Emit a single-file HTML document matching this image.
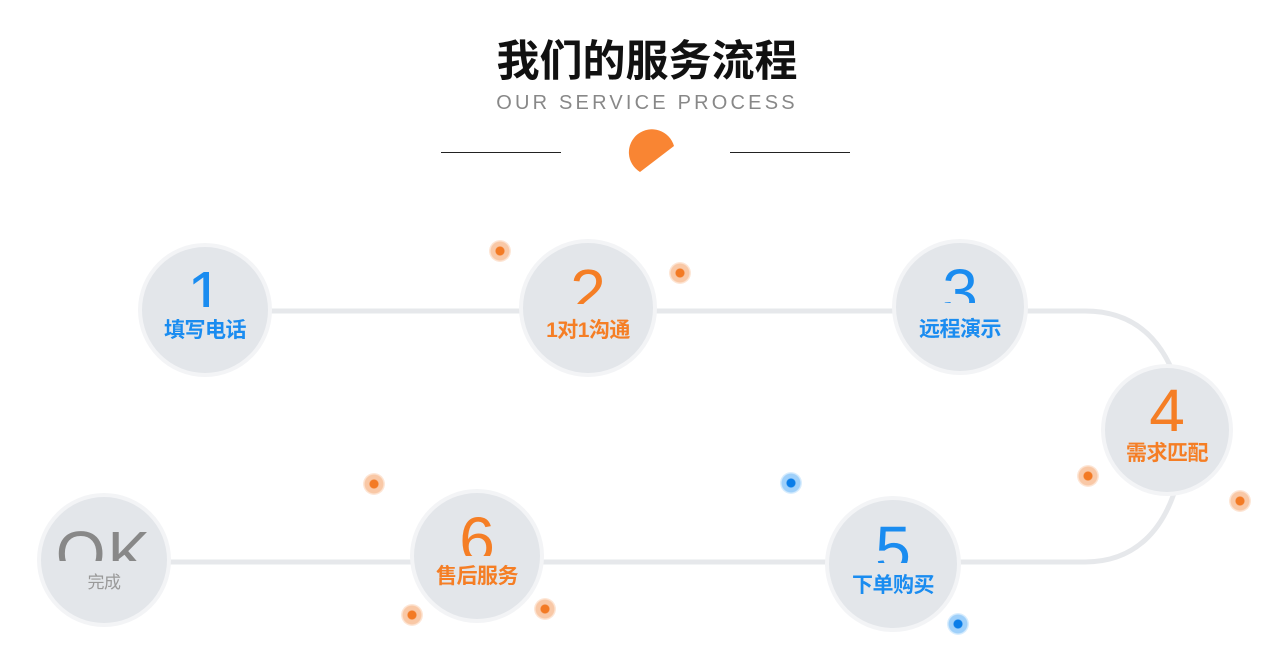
<!DOCTYPE html>
<html><head><meta charset="utf-8"><style>
body{margin:0;width:1284px;height:671px;background:#fff;position:relative;overflow:hidden;font-family:"Liberation Sans","Noto Sans CJK SC",sans-serif}
.a{position:absolute}
.c{position:absolute;border-radius:50%;background:#e3e6ea;box-shadow:0 0 0 4px #f3f4f6;text-align:center}
.n{position:absolute;left:0;right:0;overflow:hidden;font-family:"Liberation Sans",sans-serif;font-weight:normal;font-size:64px;line-height:64px}
.l{position:absolute;left:0;right:0;font-weight:bold;font-size:21px;line-height:22px;letter-spacing:-0.5px}
.d{position:absolute;width:22px;height:22px;border-radius:50%;margin:-11px 0 0 -11px}
.o{background:radial-gradient(circle,#f37a24 0 4px,#f9c8a6 5px 9px,#fde6d6 10px 11px,transparent 11px)}
.b{background:radial-gradient(circle,#0a7de8 0 4px,#9fd0fa 5px 9px,#d9edfd 10px 11px,transparent 11px)}
</style></head><body>
<div class="a" style="left:0;width:1294px;top:30px;text-align:center;font-size:43px;font-weight:bold;color:#111;line-height:56px;font-family:'Noto Sans CJK SC',sans-serif">我们的服务流程</div>
<div class="a" style="left:0;width:1294px;top:90px;text-align:center;font-size:20px;letter-spacing:3.2px;color:#888;line-height:26px">OUR SERVICE PROCESS</div>
<div class="a" style="left:441px;top:152px;width:120px;height:1px;background:#222"></div>
<div class="a" style="left:730px;top:152px;width:120px;height:1px;background:#222"></div>
<svg class="a" style="left:0;top:0" width="1284" height="671">
<path d="M674 146 A23 23 0 1 0 640 172 Z" fill="#f98533"/>
<path d="M205 311 H1085 C1130 311 1160 335 1176 380 M1178 480 C1165 530 1135 562 1085 562 H104" fill="none" stroke="#e6e8eb" stroke-width="5"/>
</svg>

<div class="c" style="left:142px;top:247px;width:126px;height:126px">
 <div class="n" style="top:15px;height:45px;color:#1a8cf0">1</div>
 <div class="l" style="top:73px;color:#1a8cf0">填写电话</div></div>
<div class="c" style="left:523px;top:243px;width:130px;height:130px">
 <div class="n" style="top:17px;height:44px;color:#f57e25">2</div>
 <div class="l" style="top:77px;color:#f57e25">1对1沟通</div></div>
<div class="c" style="left:896px;top:243px;width:128px;height:128px">
 <div class="n" style="top:17px;height:43px;color:#1a8cf0">3</div>
 <div class="l" style="top:76px;color:#1a8cf0">远程演示</div></div>
<div class="c" style="left:1105px;top:368px;width:124px;height:124px">
 <div class="n" style="top:12px;height:51px;color:#f57e25">4</div>
 <div class="l" style="top:75px;color:#f57e25">需求匹配</div></div>
<div class="c" style="left:829px;top:500px;width:128px;height:128px">
 <div class="n" style="top:17px;height:46px;color:#1a8cf0">5</div>
 <div class="l" style="top:75px;color:#1a8cf0">下单购买</div></div>
<div class="c" style="left:414px;top:493px;width:126px;height:126px">
 <div class="n" style="top:15px;height:48px;color:#f57e25">6</div>
 <div class="l" style="top:73px;color:#f57e25">售后服务</div></div>
<div class="c" style="left:41px;top:497px;width:126px;height:126px">
 <div class="n" style="top:25px;height:39px;color:#888;letter-spacing:2px">OK</div>
 <div class="l" style="top:75px;color:#999;font-weight:normal;font-size:17px">完成</div></div>

<div class="d o" style="left:500px;top:251px"></div>
<div class="d o" style="left:680px;top:273px"></div>
<div class="d o" style="left:374px;top:484px"></div>
<div class="d o" style="left:412px;top:615px"></div>
<div class="d o" style="left:545px;top:609px"></div>
<div class="d o" style="left:1088px;top:476px"></div>
<div class="d o" style="left:1240px;top:501px"></div>
<div class="d b" style="left:791px;top:483px"></div>
<div class="d b" style="left:958px;top:624px"></div>
</body></html>
